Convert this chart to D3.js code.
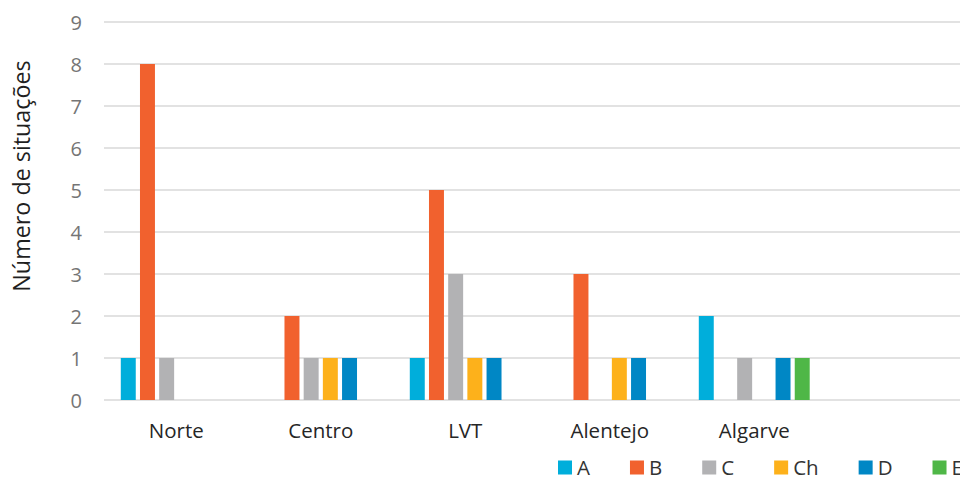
<!DOCTYPE html>
<html>
<head>
<meta charset="utf-8">
<script src="https://cdn.jsdelivr.net/npm/d3@7"></script>
<style>
  html, body { margin: 0; padding: 0; background: #fff; }
  svg { display: block; font-family: "Open Sans", sans-serif; }
</style>
</head>
<body>
<svg id="chart" width="960" height="477"></svg>
<script>
// Regions (the last band is left empty)
const regions = ["Norte", "Centro", "LVT", "Alentejo", "Algarve", ""];
const seriesKeys = ["A", "B", "C", "Ch", "D", "E"];
const seriesColors = ["#00AEDB", "#F1612E", "#B2B2B4", "#FDB11B", "#0087C5", "#4FB747"];

// Number of situations per region, one array per series
const valuesA  = [1, 0, 1, 0, 2, 0];
const valuesB  = [8, 2, 5, 3, 0, 0];
const valuesC  = [1, 1, 3, 0, 1, 0];
const valuesCh = [0, 1, 1, 1, 0, 0];
const valuesD  = [0, 1, 1, 1, 1, 0];
const valuesE  = [0, 0, 0, 0, 1, 0];
const yTicks = [0, 1, 2, 3, 4, 5, 6, 7, 8, 9];
const yTitle = "Número de situações";

const seriesValues = [valuesA, valuesB, valuesC, valuesCh, valuesD, valuesE];

const svg = d3.select("#chart");
const plotLeft = 104, plotRight = 971, plotTop = 22, plotBottom = 400;

const x0 = d3.scaleBand().domain(regions).range([plotLeft, plotRight]).padding(0);
const x1 = d3.scaleBand().domain(seriesKeys).range([0, x0.bandwidth()])
  .paddingInner(0.22).paddingOuter(0.875);
const y = d3.scaleLinear().domain([0, 9]).range([plotBottom, plotTop]);
const color = d3.scaleOrdinal().domain(seriesKeys).range(seriesColors);

// Horizontal gridlines
svg.append("g").selectAll("line").data(yTicks).join("line")
  .attr("x1", plotLeft).attr("x2", plotRight)
  .attr("y1", d => y(d)).attr("y2", d => y(d))
  .attr("stroke", "#D9D9D9").attr("stroke-width", 1.5);

// Y axis tick labels
const yAxis = d3.axisLeft(y).tickValues(yTicks).tickSize(0).tickPadding(0);
const gy = svg.append("g").attr("transform", `translate(82,0)`).call(yAxis);
gy.select(".domain").remove();
gy.selectAll("text")
  .attr("font-family", "Open Sans, sans-serif")
  .attr("font-size", 20).attr("fill", "#757575").attr("dy", "0.36em");

// X axis category labels
const xAxis = d3.axisBottom(x0).tickSize(0).tickPadding(0);
const gx = svg.append("g").attr("transform", `translate(0,${plotBottom})`).call(xAxis);
gx.select(".domain").remove();
gx.selectAll("text")
  .attr("font-family", "Open Sans, sans-serif")
  .attr("font-size", 20.5).attr("fill", "#262626").attr("dy", null).attr("y", 38);

// Bars
const rows = regions.map((r, i) => ({
  region: r,
  vals: seriesKeys.map((k, j) => ({ key: k, value: seriesValues[j][i] }))
}));
svg.append("g").selectAll("g").data(rows).join("g")
  .attr("transform", d => `translate(${x0(d.region)},0)`)
  .selectAll("rect").data(d => d.vals.filter(v => v.value > 0)).join("rect")
  .attr("x", d => x1(d.key))
  .attr("width", x1.bandwidth())
  .attr("y", d => y(d.value))
  .attr("height", d => y(0) - y(d.value))
  .attr("fill", d => color(d.key));

// Y axis title
svg.append("text")
  .attr("transform", `translate(29.5,${(plotTop + plotBottom) / 2 - 35}) rotate(-90)`)
  .attr("text-anchor", "middle")
  .attr("font-size", 23.3).attr("fill", "#1F1F1F")
  .text(yTitle);

// Legend
const legend = svg.append("g");
let lx = 558;
seriesKeys.forEach(k => {
  const item = legend.append("g").attr("transform", `translate(${lx},460)`);
  item.append("rect").attr("y", 0.5).attr("width", 14).attr("height", 14).attr("fill", color(k));
  const t = item.append("text").attr("x", 19).attr("y", 14.5)
    .attr("font-size", 20.5).attr("fill", "#333333").text(k);
  lx += 19 + t.node().getComputedTextLength() + 40;
});
</script>
</body>
</html>
